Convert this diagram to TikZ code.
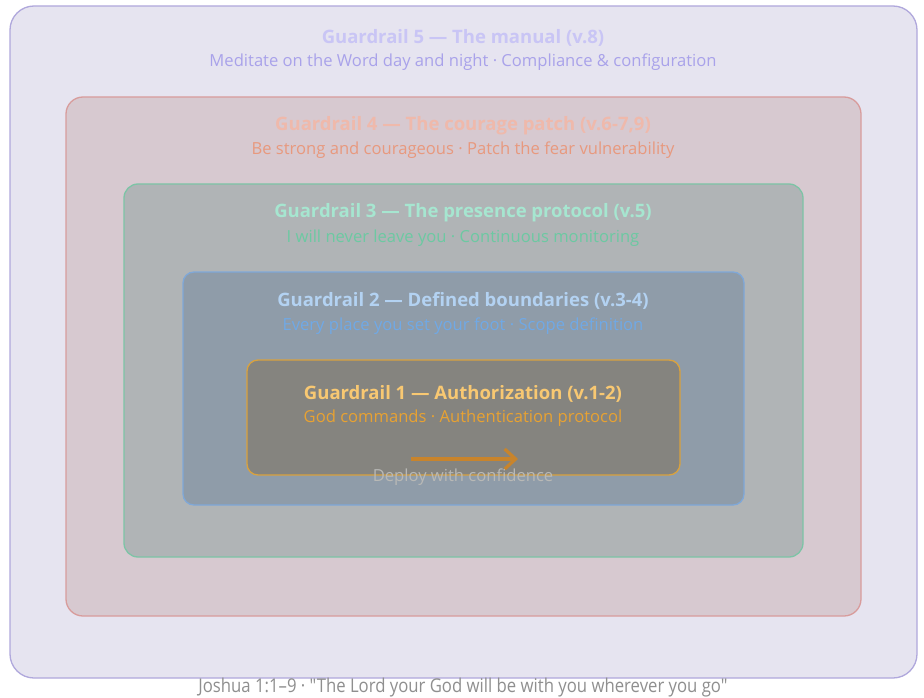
\documentclass[tikz,border=0pt]{standalone}
\usepackage{fontspec}
\setmainfont{Open Sans}
\newfontfamily\capfont{Open Sans}[Ligatures=TeXOff]
\usetikzlibrary{arrows.meta}
\definecolor{f5}{HTML}{E6E4F0}\definecolor{b5}{HTML}{B0A8DC}
\definecolor{f4}{HTML}{D7C9D0}\definecolor{b4}{HTML}{D89C9C}
\definecolor{f3}{HTML}{B0B4B6}\definecolor{b3}{HTML}{7DC4A6}
\definecolor{f2}{HTML}{8F9CA9}\definecolor{b2}{HTML}{7FA8D8}
\definecolor{f1}{HTML}{85847F}\definecolor{b1}{HTML}{D9A23F}
\definecolor{t5}{HTML}{C9C5F5}\definecolor{s5}{HTML}{A9A2EA}
\definecolor{t4}{HTML}{EFB9AB}\definecolor{s4}{HTML}{E8997E}
\definecolor{t3}{HTML}{A6E6D0}\definecolor{s3}{HTML}{6CC9A2}
\definecolor{t2}{HTML}{B3D2F2}\definecolor{s2}{HTML}{70A9E6}
\definecolor{t1}{HTML}{F8C872}\definecolor{s1}{HTML}{E8A232}
\definecolor{arr}{HTML}{C8842C}\definecolor{dep}{HTML}{B9B9B6}
\definecolor{cap}{HTML}{8F8F8F}
\tikzset{
  layer/.style={line width=1.3pt},
  ttl/.style={anchor=center, inner sep=0pt, font=\fontsize{18.5}{22}\selectfont\bfseries},
  sub/.style={anchor=center, inner sep=0pt, font=\fontsize{16.6}{20}\selectfont},
}
\begin{document}
\begin{tikzpicture}[x=1pt,y=-1pt]
\useasboundingbox (0,0) rectangle (924,698);
\fill[white] (0,0) rectangle (924,698);
\draw[layer, fill=f5, draw=b5, rounded corners=24pt] (10,6) rectangle (917,678);
\draw[layer, fill=f4, draw=b4, rounded corners=17pt] (66,97) rectangle (861,616);
\draw[layer, fill=f3, draw=b3, rounded corners=14pt] (124,184) rectangle (803,557);
\draw[layer, fill=f2, draw=b2, rounded corners=11pt] (183,272) rectangle (744,505);
\draw[layer, fill=f1, draw=b1, rounded corners=11pt] (247,360) rectangle (680,475);

\node[ttl, text=t5] (g5t) at (463,38) {Guardrail 5 — The manual (v.8)};
\node[sub, text=s5] (g5s) at (463,62) {Meditate on the Word day and night · Compliance \& configuration};
\node[ttl, text=t4] (g4t) at (463,126) {Guardrail 4 — The courage patch (v.6-7,9)};
\node[sub, text=s4] (g4s) at (463,150) {Be strong and courageous · Patch the fear vulnerability};
\node[ttl, text=t3] (g3t) at (463,213) {Guardrail 3 — The presence protocol (v.5)};
\node[sub, text=s3] (g3s) at (463,238) {I will never leave you · Continuous monitoring};
\node[ttl, text=t2] (g2t) at (463,301) {Guardrail 2 — Defined boundaries (v.3-4)};
\node[sub, text=s2] (g2s) at (463,326) {Every place you set your foot · Scope definition};
\node[ttl, text=t1] (g1t) at (463,394) {Guardrail 1 — Authorization (v.1-2)};
\node[sub, text=s1] (g1s) at (463,418) {God commands · Authentication protocol};

\coordinate (a0) at (411,459);
\coordinate (a1) at (518,459);
\draw[arr, line width=3.2pt, -{Straight Barb[length=11pt,width=20pt,line width=3.2pt]}] (a0) -- (a1);
\node[sub, text=dep] (dep) at (463,477) {Deploy with confidence};

\node[anchor=center, inner sep=0pt, text=cap, font=\capfont\fontsize{19}{22}\selectfont] (cap) at (463,688) {\scalebox{0.88}[1]{Joshua 1:1–9 · "The Lord your God will be with you wherever you go"}};
\end{tikzpicture}
\end{document}
